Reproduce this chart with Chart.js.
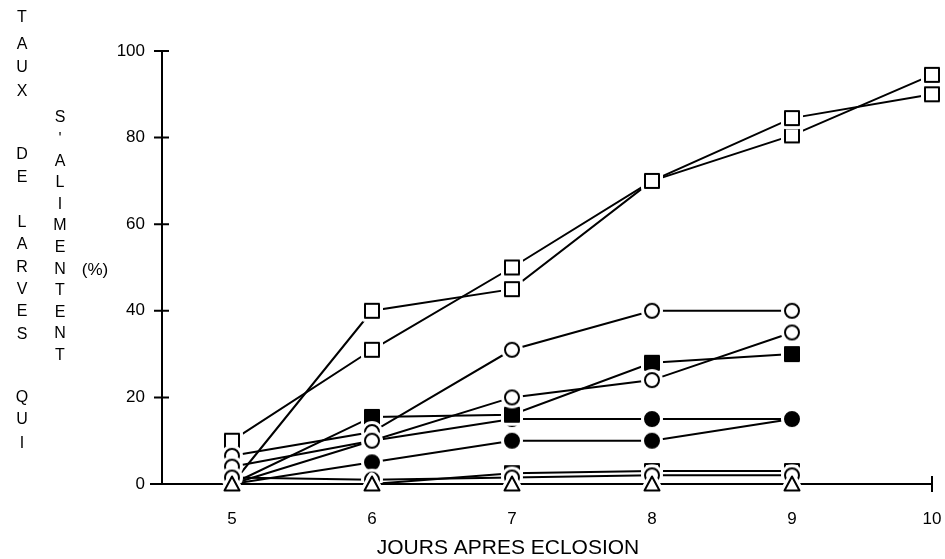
<!DOCTYPE html>
<html>
<head>
<meta charset="utf-8">
<script src="https://cdn.jsdelivr.net/npm/chart.js@4"></script>
<style>
  html, body { margin: 0; padding: 0; background: #fff; }
</style>
</head>
<body>
<canvas id="chart" width="945" height="559"></canvas>
<script>
// days after hatching
const days = [5, 6, 7, 8, 9, 10];
const yTicks = [0, 20, 40, 60, 80, 100];

// feeding rate (%) per batch
const sqA = [0, 40, 45, 70, 84.5, 90];
const sqB = [10, 31, 50, 70, 80.5, 94.5];
const cirA = [6.5, 12, 31, 40, 40];
const cirB = [4, 10, 20, 24, 35];
const sqFull = [0, 15.5, 16, 28, 30];
const dotA = [0, 5, 10, 10, 15];
const dotB = [0, 10, 15, 15, 15];
const sqLow = [0, 0, 2.5, 3, 3];
const cirLow = [1.5, 1, 1.5, 2, 2];
const tri = [0, 0, 0, 0, 0];

const leftWords = 'TAUX DE LARVES QUI';
const rightWords = "S'ALIMENTENT";
const unitLabel = '(%)';
const xTitle = 'JOURS APRES ECLOSION';

const FONT = '"Liberation Sans", Arial, Helvetica, sans-serif';

// marker sprites with a white rim, so lines stop short of the symbols
function marker(kind, filled) {
  const c = document.createElement('canvas');
  c.width = c.height = 24;
  const g = c.getContext('2d');
  const path = () => {
    g.beginPath();
    if (kind === 'square') g.rect(5, 5, 14, 14);
    else if (kind === 'circle') g.arc(12, 12, 7, 0, Math.PI * 2);
    else { g.moveTo(12, 4.5); g.lineTo(19.5, 18.5); g.lineTo(4.5, 18.5); g.closePath(); }
  };
  g.lineJoin = 'round';
  path();
  g.fillStyle = '#fff';
  g.fill();
  g.lineWidth = 8;
  g.strokeStyle = '#fff';
  g.stroke();
  path();
  g.fillStyle = filled ? '#000' : '#fff';
  g.fill();
  g.lineWidth = 2;
  g.strokeStyle = '#000';
  g.stroke();
  return c;
}

const openSq = marker('square', false);
const fullSq = marker('square', true);
const openCir = marker('circle', false);
const fullCir = marker('circle', true);
const openTri = marker('triangle', false);

function pts(values) {
  return values.map((v, i) => ({ x: days[i], y: v }));
}

function series(values, style, radius) {
  return {
    data: pts(values),
    borderColor: '#000',
    borderWidth: 2,
    pointStyle: style,
    pointRadius: radius,
    pointHoverRadius: radius,
    clip: false,
    tension: 0
  };
}

// first dataset is painted last, so the lower markers sit on top
const datasets = [
  series(tri, openTri, 7),
  series(cirLow, openCir, 7),
  series(sqLow, [fullSq, fullSq, fullSq, openSq, openSq], [0, 0, 7, 7, 7]),
  series(cirB, openCir, 7),
  series(cirA, openCir, 7),
  series(sqFull, fullSq, [0, 7, 7, 7, 7]),
  series(dotA, fullCir, [0, 7, 7, 7, 7]),
  series(dotB, fullCir, [0, 7, 7, 7, 7]),
  series(sqA, openSq, [0, 7, 7, 7, 7, 7]),
  series(sqB, openSq, 7)
];

// axis lines with crossing tick marks, and the stacked titles
const axes = {
  id: 'axes',
  beforeDatasetsDraw(chart) {
    const { ctx, scales: { x, y } } = chart;
    const x0 = x.left;
    const yTop = y.getPixelForValue(100);
    const yBot = y.getPixelForValue(0);
    ctx.save();
    ctx.strokeStyle = '#000';
    ctx.lineWidth = 2;
    ctx.beginPath();
    ctx.moveTo(x0, yTop);
    ctx.lineTo(x0, yBot);
    ctx.moveTo(x0 - 12, yBot);
    ctx.lineTo(x.right, yBot);
    yTicks.forEach(v => {
      if (v === 0) return;
      const py = y.getPixelForValue(v);
      ctx.moveTo(x0 - 8, py);
      ctx.lineTo(x0 + 7, py);
    });
    const xEnd = x.getPixelForValue(10);
    ctx.moveTo(xEnd, yBot - 8);
    ctx.lineTo(xEnd, yBot + 8);
    ctx.stroke();
    ctx.restore();
  },
  afterDraw(chart) {
    const { ctx } = chart;
    ctx.save();
    ctx.fillStyle = '#000';
    ctx.textAlign = 'center';
    ctx.textBaseline = 'middle';
    ctx.font = '16px ' + FONT;
    const colA = [18, 45, 68, 92, 0, 155, 178, 0, 223, 245, 268, 290, 312, 335, 0, 398, 420, 444];
    [...leftWords].forEach((ch, i) => {
      if (ch !== ' ') ctx.fillText(ch, 22, colA[i]);
    });
    [...rightWords].forEach((ch, i) => {
      ctx.fillText(ch, 60, 118 + i * 21.6);
    });
    ctx.font = '17px ' + FONT;
    ctx.fillText(unitLabel, 95, 270);
    ctx.font = '21px ' + FONT;
    ctx.fillText(xTitle, 508, 548);
    ctx.restore();
  }
};

new Chart(document.getElementById('chart'), {
  type: 'line',
  data: { datasets },
  options: {
    responsive: false,
    animation: false,
    layout: { padding: { top: 51, right: 13, left: 0, bottom: 0 } },
    plugins: { legend: { display: false }, tooltip: { enabled: false } },
    scales: {
      x: {
        type: 'linear',
        min: 4.5,
        max: 10,
        border: { display: false },
        grid: { display: false, drawTicks: false },
        afterBuildTicks: s => { s.ticks = days.map(v => ({ value: v })); },
        afterFit: s => { s.height = 75; s.paddingLeft = 0; s.paddingRight = 0; },
        ticks: { padding: 25, color: '#000', font: { family: FONT, size: 17 } }
      },
      y: {
        min: 0,
        max: 100,
        border: { display: false },
        grid: { display: false, drawTicks: false },
        afterBuildTicks: s => { s.ticks = yTicks.map(v => ({ value: v })); },
        afterFit: s => { s.width = 162; s.paddingTop = 0; s.paddingBottom = 0; },
        ticks: { padding: 17, color: '#000', font: { family: FONT, size: 17 } }
      }
    }
  },
  plugins: [axes]
});
</script>
</body>
</html>
